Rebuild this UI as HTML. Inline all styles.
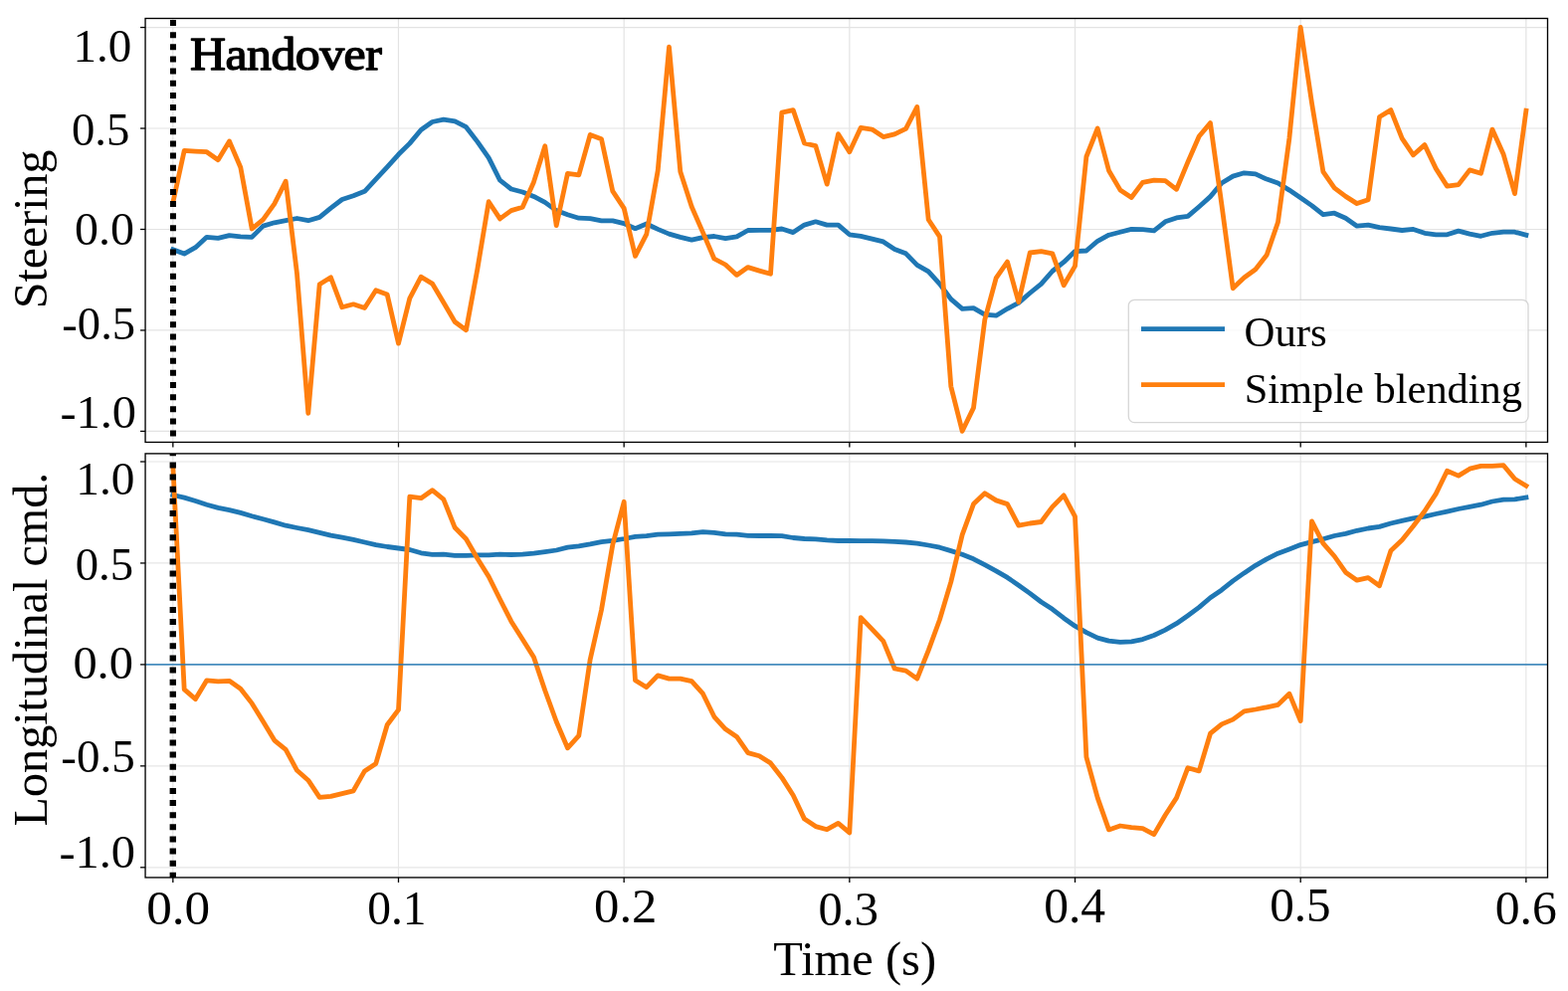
<!DOCTYPE html>
<html lang="en"><head><meta charset="utf-8"><title>Handover comparison</title>
<style>
html,body{margin:0;padding:0;background:#fff;}
body{width:1576px;height:996px;overflow:hidden;}
svg{display:block;}
text{font-family:"Liberation Serif","Times New Roman",serif;fill:#000;}
.tick{font-size:46.5px;}
.lab{font-size:46.5px;}
.leg{font-size:42px;}
.ttl{font-size:46.5px;font-weight:bold;}
.grid line{stroke-width:1.2;}
.spine{fill:none;stroke:#000;stroke-width:1.35;}
.tk line{stroke:#000;stroke-width:1.3;}
.ser{fill:none;stroke-width:4.8;stroke-linejoin:round;stroke-linecap:square;}
</style></head><body>
<svg width="1576" height="996" viewBox="0 0 1576 996">
<rect x="0" y="0" width="1576" height="996" fill="#fff"/>
<defs>
<clipPath id="c0"><rect x="146.05" y="18.5" width="1409.45" height="425.95"/></clipPath>
<clipPath id="c1"><rect x="146.05" y="455.9" width="1409.45" height="426.05000000000007"/></clipPath>
</defs>
<g id="axes0">
<g class="grid" stroke="#e3e3e3">
<line x1="173.83" y1="18.5" x2="173.83" y2="444.45"/>
<line x1="400.50" y1="18.5" x2="400.50" y2="444.45"/>
<line x1="627.17" y1="18.5" x2="627.17" y2="444.45"/>
<line x1="853.85" y1="18.5" x2="853.85" y2="444.45"/>
<line x1="1080.52" y1="18.5" x2="1080.52" y2="444.45"/>
<line x1="1307.19" y1="18.5" x2="1307.19" y2="444.45"/>
<line x1="1533.86" y1="18.5" x2="1533.86" y2="444.45"/>
<line x1="146.05" y1="27.55" x2="1555.5" y2="27.55"/>
<line x1="146.05" y1="129.02" x2="1555.5" y2="129.02"/>
<line x1="146.05" y1="230.49" x2="1555.5" y2="230.49"/>
<line x1="146.05" y1="331.96" x2="1555.5" y2="331.96"/>
<line x1="146.05" y1="433.43" x2="1555.5" y2="433.43"/>
</g>
<g clip-path="url(#c0)">
<path class="ser" stroke="#1f77b4" d="M173.8 250.8 L185.2 255.1 L196.5 248.7 L207.8 238.3 L219.2 239.4 L230.5 236.6 L241.8 237.9 L253.2 238.3 L264.5 227.1 L275.8 223.8 L287.2 221.7 L298.5 219.5 L309.8 221.7 L321.2 218.4 L332.5 209.1 L343.8 200.5 L355.2 196.8 L366.5 192.3 L377.8 180.2 L389.2 167.8 L400.5 155.3 L411.8 144.1 L423.2 130.5 L434.5 122.5 L445.8 120.1 L457.2 121.9 L468.5 127.7 L479.8 142.4 L491.2 158.6 L502.5 181.2 L513.8 190.0 L525.2 193.0 L536.5 197.4 L547.8 203.4 L559.2 211.6 L570.5 215.7 L581.8 219.2 L593.2 219.6 L604.5 221.8 L615.8 221.8 L627.2 224.6 L638.5 229.7 L649.8 225.0 L661.2 230.4 L672.5 235.1 L683.8 238.4 L695.2 241.2 L706.5 238.6 L717.8 237.5 L729.2 239.7 L740.5 237.9 L751.8 231.5 L763.2 231.3 L774.5 231.3 L785.8 230.0 L797.2 233.6 L808.5 226.1 L819.8 222.8 L831.2 226.1 L842.5 226.1 L853.8 235.8 L865.2 237.3 L876.5 240.1 L887.8 242.9 L899.2 250.5 L910.5 254.8 L921.8 266.4 L933.2 272.9 L944.5 285.4 L955.8 300.6 L967.2 310.3 L978.5 309.6 L989.8 316.1 L1001.2 317.2 L1012.5 310.3 L1023.8 304.4 L1035.2 294.5 L1046.5 285.4 L1057.8 272.5 L1069.2 263.4 L1080.5 252.6 L1091.9 252.0 L1103.2 242.3 L1114.5 236.2 L1125.9 233.2 L1137.2 230.4 L1148.5 230.6 L1159.9 231.9 L1171.2 222.8 L1182.5 218.9 L1193.9 217.4 L1205.2 207.7 L1216.5 197.6 L1227.9 184.0 L1239.2 177.1 L1250.5 173.8 L1261.9 174.9 L1273.2 180.1 L1284.5 184.0 L1295.9 191.1 L1307.2 198.7 L1318.5 206.6 L1329.9 215.7 L1341.2 214.2 L1352.5 219.2 L1363.9 227.2 L1375.2 226.1 L1386.5 228.7 L1397.9 230.0 L1409.2 231.5 L1420.5 230.4 L1431.9 234.3 L1443.2 235.8 L1454.5 235.8 L1465.9 232.1 L1477.2 235.1 L1488.5 237.3 L1499.9 234.3 L1511.2 233.2 L1522.5 233.2 L1533.9 236.3"/>
<path class="ser" stroke="#ff7f0e" d="M173.8 203.7 L185.2 151.4 L196.5 152.1 L207.8 152.7 L219.2 160.7 L230.5 141.9 L241.8 168.3 L253.2 230.0 L264.5 220.6 L275.8 204.8 L287.2 182.2 L298.5 275.0 L309.8 415.3 L321.2 285.7 L332.5 278.8 L343.8 308.8 L355.2 305.8 L366.5 309.5 L377.8 291.8 L389.2 296.1 L400.5 345.1 L411.8 299.8 L423.2 278.2 L434.5 285.1 L445.8 304.1 L457.2 323.5 L468.5 331.7 L479.8 270.7 L491.2 202.7 L502.5 219.9 L513.8 211.6 L525.2 208.2 L536.5 182.9 L547.8 146.8 L559.2 226.7 L570.5 174.3 L581.8 175.8 L593.2 135.4 L604.5 139.7 L615.8 192.2 L627.2 209.4 L638.5 257.4 L649.8 235.4 L661.2 171.5 L672.5 47.1 L683.8 172.5 L695.2 207.7 L706.5 233.6 L717.8 260.0 L729.2 266.0 L740.5 276.4 L751.8 268.6 L763.2 272.1 L774.5 275.3 L785.8 113.2 L797.2 110.6 L808.5 144.0 L819.8 146.6 L831.2 185.1 L842.5 134.7 L853.8 152.7 L865.2 128.3 L876.5 130.1 L887.8 137.6 L899.2 134.8 L910.5 129.4 L921.8 107.4 L933.2 220.7 L944.5 237.9 L955.8 388.3 L967.2 433.3 L978.5 409.9 L989.8 321.4 L1001.2 279.3 L1012.5 263.1 L1023.8 303.7 L1035.2 254.0 L1046.5 252.7 L1057.8 254.9 L1069.2 286.8 L1080.5 267.4 L1091.9 157.5 L1103.2 129.0 L1114.5 171.5 L1125.9 190.9 L1137.2 198.5 L1148.5 183.4 L1159.9 181.2 L1171.2 181.7 L1182.5 190.3 L1193.9 162.8 L1205.2 137.0 L1216.5 123.6 L1227.9 205.6 L1239.2 289.8 L1250.5 279.0 L1261.9 270.8 L1273.2 256.3 L1284.5 223.3 L1295.9 139.1 L1307.2 27.3 L1318.5 103.5 L1329.9 172.6 L1341.2 188.8 L1352.5 197.4 L1363.9 204.6 L1375.2 200.7 L1386.5 117.5 L1397.9 110.6 L1409.2 139.1 L1420.5 155.8 L1431.9 145.6 L1443.2 169.4 L1454.5 187.1 L1465.9 185.6 L1477.2 170.9 L1488.5 174.3 L1499.9 130.1 L1511.2 155.3 L1522.5 194.6 L1533.9 111.2"/>
<line x1="174.0" y1="20.1" x2="174.0" y2="444.45" stroke="#000" stroke-width="5.95" stroke-dasharray="6.0 6.13"/>
</g>
<g class="tk">
<line x1="141.05" y1="27.55" x2="146.05" y2="27.55"/>
<line x1="141.05" y1="129.02" x2="146.05" y2="129.02"/>
<line x1="141.05" y1="230.49" x2="146.05" y2="230.49"/>
<line x1="141.05" y1="331.96" x2="146.05" y2="331.96"/>
<line x1="141.05" y1="433.43" x2="146.05" y2="433.43"/>
<line x1="173.83" y1="444.45" x2="173.83" y2="449.45"/>
<line x1="400.50" y1="444.45" x2="400.50" y2="449.45"/>
<line x1="627.17" y1="444.45" x2="627.17" y2="449.45"/>
<line x1="853.85" y1="444.45" x2="853.85" y2="449.45"/>
<line x1="1080.52" y1="444.45" x2="1080.52" y2="449.45"/>
<line x1="1307.19" y1="444.45" x2="1307.19" y2="449.45"/>
<line x1="1533.86" y1="444.45" x2="1533.86" y2="449.45"/>
</g>
<rect class="spine" x="146.05" y="18.5" width="1409.45" height="425.95"/>
</g>
<g id="axes1">
<g class="grid" stroke="#e6e6e6">
<line x1="173.83" y1="455.9" x2="173.83" y2="881.95"/>
<line x1="400.50" y1="455.9" x2="400.50" y2="881.95"/>
<line x1="627.17" y1="455.9" x2="627.17" y2="881.95"/>
<line x1="853.85" y1="455.9" x2="853.85" y2="881.95"/>
<line x1="1080.52" y1="455.9" x2="1080.52" y2="881.95"/>
<line x1="1307.19" y1="455.9" x2="1307.19" y2="881.95"/>
<line x1="1533.86" y1="455.9" x2="1533.86" y2="881.95"/>
<line x1="146.05" y1="464.0" x2="1555.5" y2="464.0"/>
<line x1="146.05" y1="565.95" x2="1555.5" y2="565.95"/>
<line x1="146.05" y1="667.9" x2="1555.5" y2="667.9"/>
<line x1="146.05" y1="769.85" x2="1555.5" y2="769.85"/>
<line x1="146.05" y1="871.8" x2="1555.5" y2="871.8"/>
</g>
<g clip-path="url(#c1)">
<path class="ser" stroke="#1f77b4" d="M173.8 497.5 L185.2 500.1 L196.5 503.5 L207.8 507.2 L219.2 510.4 L230.5 512.6 L241.8 515.4 L253.2 518.7 L264.5 521.7 L275.8 524.9 L287.2 528.2 L298.5 530.5 L309.8 532.7 L321.2 535.3 L332.5 538.1 L343.8 540.2 L355.2 542.4 L366.5 545.0 L377.8 547.6 L389.2 549.5 L400.5 551.0 L411.8 552.5 L423.2 555.8 L434.5 557.3 L445.8 557.1 L457.2 558.4 L468.5 558.4 L479.8 557.9 L491.2 557.9 L502.5 557.1 L513.8 557.5 L525.2 557.1 L536.5 556.2 L547.8 554.7 L559.2 553.0 L570.5 550.2 L581.8 548.9 L593.2 546.9 L604.5 544.6 L615.8 543.3 L627.2 541.5 L638.5 539.4 L649.8 538.7 L661.2 537.2 L672.5 536.8 L683.8 536.4 L695.2 535.9 L706.5 534.6 L717.8 535.3 L729.2 536.8 L740.5 537.2 L751.8 538.3 L763.2 538.5 L774.5 538.5 L785.8 538.7 L797.2 540.5 L808.5 541.5 L819.8 541.8 L831.2 542.8 L842.5 543.5 L853.8 543.5 L865.2 543.7 L876.5 543.7 L887.8 543.9 L899.2 544.3 L910.5 545.0 L921.8 546.1 L933.2 548.0 L944.5 550.2 L955.8 553.6 L967.2 557.3 L978.5 561.8 L989.8 567.7 L1001.2 573.9 L1012.5 580.4 L1023.8 588.2 L1035.2 596.4 L1046.5 605.0 L1057.8 612.3 L1069.2 621.2 L1080.5 629.2 L1091.9 635.7 L1103.2 641.1 L1114.5 644.1 L1125.9 645.4 L1137.2 644.9 L1148.5 642.6 L1159.9 638.5 L1171.2 633.1 L1182.5 626.7 L1193.9 618.7 L1205.2 610.4 L1216.5 600.7 L1227.9 592.9 L1239.2 583.9 L1250.5 575.9 L1261.9 568.3 L1273.2 561.8 L1284.5 556.2 L1295.9 551.9 L1307.2 547.6 L1318.5 544.6 L1329.9 541.8 L1341.2 538.5 L1352.5 536.4 L1363.9 533.3 L1375.2 531.0 L1386.5 529.4 L1397.9 526.0 L1409.2 523.4 L1420.5 520.8 L1431.9 519.1 L1443.2 516.5 L1454.5 514.1 L1465.9 511.5 L1477.2 509.4 L1488.5 507.2 L1499.9 504.0 L1511.2 502.2 L1522.5 501.8 L1533.9 500.0"/>
<path class="ser" stroke="#ff7f0e" d="M173.8 467.5 L185.2 692.9 L196.5 702.6 L207.8 683.8 L219.2 684.9 L230.5 684.3 L241.8 692.2 L253.2 706.9 L264.5 725.3 L275.8 744.1 L287.2 753.3 L298.5 774.3 L309.8 784.2 L321.2 801.3 L332.5 800.4 L343.8 797.6 L355.2 794.8 L366.5 774.9 L377.8 767.4 L389.2 728.5 L400.5 713.4 L411.8 499.2 L423.2 500.7 L434.5 492.7 L445.8 501.8 L457.2 530.3 L468.5 541.8 L479.8 561.2 L491.2 579.5 L502.5 602.2 L513.8 624.4 L525.2 642.6 L536.5 660.5 L547.8 694.0 L559.2 725.3 L570.5 751.8 L581.8 739.3 L593.2 662.7 L604.5 613.0 L615.8 547.5 L627.2 504.3 L638.5 683.8 L649.8 690.7 L661.2 678.9 L672.5 682.1 L683.8 682.1 L695.2 684.7 L706.5 697.2 L717.8 720.3 L729.2 732.8 L740.5 740.4 L751.8 756.6 L763.2 759.8 L774.5 766.9 L785.8 781.4 L797.2 799.3 L808.5 823.1 L819.8 830.6 L831.2 833.7 L842.5 827.4 L853.8 836.9 L865.2 620.6 L876.5 632.4 L887.8 644.3 L899.2 672.0 L910.5 674.1 L921.8 682.1 L933.2 653.6 L944.5 622.7 L955.8 584.9 L967.2 537.4 L978.5 506.6 L989.8 495.8 L1001.2 502.9 L1012.5 506.6 L1023.8 528.2 L1035.2 526.0 L1046.5 524.5 L1057.8 509.4 L1069.2 497.9 L1080.5 519.1 L1091.9 760.9 L1103.2 801.9 L1114.5 833.9 L1125.9 830.0 L1137.2 831.7 L1148.5 832.6 L1159.9 838.6 L1171.2 819.2 L1182.5 801.9 L1193.9 771.7 L1205.2 774.9 L1216.5 737.2 L1227.9 727.9 L1239.2 723.1 L1250.5 714.9 L1261.9 713.0 L1273.2 710.8 L1284.5 708.4 L1295.9 697.2 L1307.2 724.6 L1318.5 523.8 L1329.9 546.1 L1341.2 559.0 L1352.5 575.2 L1363.9 583.2 L1375.2 580.6 L1386.5 588.8 L1397.9 553.6 L1409.2 542.8 L1420.5 528.8 L1431.9 513.7 L1443.2 496.4 L1454.5 473.3 L1465.9 478.1 L1477.2 471.2 L1488.5 468.4 L1499.9 468.4 L1511.2 467.7 L1522.5 481.3 L1533.9 488.3"/>
<line x1="173.8" y1="452.27" x2="173.8" y2="881.95" stroke="#000" stroke-width="6.4" stroke-dasharray="6.0 6.13"/>
<line x1="146.05" y1="667.9" x2="1555.5" y2="667.9" stroke="#1f77b4" stroke-opacity="0.8" stroke-width="1.8"/>
</g>
<g class="tk">
<line x1="141.05" y1="464.0" x2="146.05" y2="464.0"/>
<line x1="141.05" y1="565.95" x2="146.05" y2="565.95"/>
<line x1="141.05" y1="667.9" x2="146.05" y2="667.9"/>
<line x1="141.05" y1="769.85" x2="146.05" y2="769.85"/>
<line x1="141.05" y1="871.8" x2="146.05" y2="871.8"/>
<line x1="173.83" y1="881.95" x2="173.83" y2="886.95"/>
<line x1="400.50" y1="881.95" x2="400.50" y2="886.95"/>
<line x1="627.17" y1="881.95" x2="627.17" y2="886.95"/>
<line x1="853.85" y1="881.95" x2="853.85" y2="886.95"/>
<line x1="1080.52" y1="881.95" x2="1080.52" y2="886.95"/>
<line x1="1307.19" y1="881.95" x2="1307.19" y2="886.95"/>
<line x1="1533.86" y1="881.95" x2="1533.86" y2="886.95"/>
</g>
<rect class="spine" x="146.05" y="455.9" width="1409.45" height="426.05000000000007"/>
</g>
<g id="legend"><rect x="1134.3" y="301.3" width="401.70000000000005" height="123.3" rx="6" ry="6" fill="#fff" fill-opacity="0.8" stroke="#cccccc" stroke-opacity="0.8" stroke-width="1.3"/>
<line x1="1147" y1="330.6" x2="1231" y2="330.6" stroke="#1f77b4" stroke-width="4.8"/>
<line x1="1147" y1="386.6" x2="1231" y2="386.6" stroke="#ff7f0e" stroke-width="4.8"/>
</g>
<text transform="matrix(0.9796 0 0 0.9743 73.39 62.00)" font-size="48">1.0</text>
<text transform="matrix(0.9737 0 0 0.9666 71.95 146.05)" font-size="48">0.5</text>
<text transform="matrix(1.0000 0 0 0.9666 75.00 246.05)" font-size="48">0.0</text>
<text transform="matrix(0.9704 0 0 0.9666 62.35 341.00)" font-size="48">-0.5</text>
<text transform="matrix(1.0088 0 0 0.9651 60.38 430.11)" font-size="48">-1.0</text>
<text transform="matrix(0.9870 0 0 0.9804 76.35 497.19)" font-size="48">1.0</text>
<text transform="matrix(0.9737 0 0 0.9712 75.75 582.90)" font-size="48">0.5</text>
<text transform="matrix(1.0089 0 0 0.9681 73.38 681.90)" font-size="48">0.0</text>
<text transform="matrix(0.9787 0 0 0.9651 61.34 775.91)" font-size="48">-0.5</text>
<text transform="matrix(1.0088 0 0 0.9773 59.38 872.20)" font-size="48">-1.0</text>
<text transform="matrix(1.0674 0 0 1.0064 147.18 928.98)" font-size="48">0.0</text>
<text transform="matrix(0.9906 0 0 1.0064 369.22 928.98)" font-size="48">0.1</text>
<text transform="matrix(1.0565 0 0 1.0202 597.10 927.37)" font-size="48">0.2</text>
<text transform="matrix(1.0075 0 0 0.9926 822.39 929.69)" font-size="48">0.3</text>
<text transform="matrix(1.0334 0 0 1.0355 1049.14 926.65)" font-size="48">0.4</text>
<text transform="matrix(1.0235 0 0 1.0202 1276.16 926.17)" font-size="48">0.5</text>
<text transform="matrix(1.0359 0 0 1.0018 1502.74 928.98)" font-size="48">0.6</text>
<text transform="matrix(1.0097 0 0 1.0308 777.25 980.19)" font-size="48">Time (s)</text>
<text transform="matrix(0.8925 0 0 0.8767 1250.49 347.68)" font-size="48">Ours</text>
<text transform="matrix(0.8843 0 0 0.8677 1250.73 405.05)" font-size="48">Simple blending</text>
<text transform="matrix(0 -0.9977 1.0209 0 46.86 310.13)" font-size="48">Steering</text>
<text transform="matrix(0 -1.0036 1.0073 0 46.70 830.45)" font-size="48">Longitudinal cmd.</text>
<text transform="matrix(1.055 0 0 1 191.1 69.8)" font-size="47.3" letter-spacing="-0.55" stroke="#000" stroke-width="1.35" stroke-linejoin="round">Handover</text>
</svg>
</body></html>
